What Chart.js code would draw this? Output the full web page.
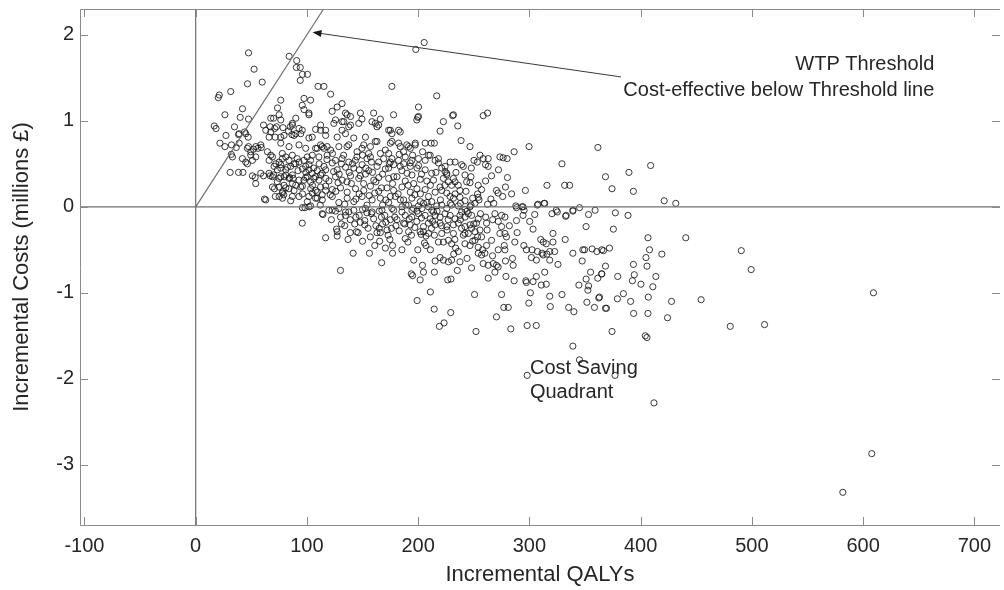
<!DOCTYPE html>
<html>
<head>
<meta charset="utf-8">
<script src="https://cdn.jsdelivr.net/npm/chart.js@4.4.1/dist/chart.umd.min.js"></script>
<style>
html, body { margin: 0; padding: 0; background: #fff; }
#wrap { width: 1004px; height: 590px; }
</style>
</head>
<body>
<div id="wrap"><canvas id="chart" width="1004" height="590"></canvas></div>
<script>
// axis settings
const xTickValues = [-100, 0, 100, 200, 300, 400, 500, 600, 700];
const yTickValues = [-3, -2, -1, 0, 1, 2];
const xRange = [-104, 723];
const yRange = [-3.7, 2.3];
const wtpPerQaly = 20000; // £ per QALY

const wtpText = ['WTP Threshold', 'Cost-effective below Threshold line'];
const savingText = ['Cost Saving', 'Quadrant'];

// PSA samples: [incremental QALYs, incremental costs (millions £)]
const psaSamples = [
  // top left, x < 120
  [47.5,1.79],[52.5,1.6],[59.8,1.45],[46.6,1.43],[31.5,1.34],[21.2,1.3],[20.3,1.27],[26.3,1.07],[42.1,1.14],[40,1.04],
  [47.5,1.02],[16.7,0.94],[18.3,0.91],[27.2,0.83],[34.9,0.93],[38.5,0.84],[45,0.85],[44,0.87],[47.2,0.81],[32.2,0.72],
  [21.8,0.74],[26.3,0.7],[32,0.61],[36.5,0.69],[33,0.58],[42,0.56],[45,0.52],[46.5,0.5],[49.5,0.6],[31,0.4],
  [38.5,0.4],[42.5,0.4],[46.5,0.68],[49.5,0.64],[52,0.67],[56,0.68],[59,0.69],[54,0.27],[53.5,0.34],[61,0.36],
  [61.8,0.09],[63,0.08],[71.6,0.12],[70.8,0.21],[78.3,0.18],[79.2,0.14],[67,0.36],[70,0.37],[75,0.33],[84.6,0.34],
  [87.6,0.33],[61,0.95],[67,0.93],[70,1.03],[73.6,1.15],[76.5,1.24],[78.5,0.92],[85,0.93],[83.5,0.88],[86.5,0.84],
  [90,0.85],[84,1.75],[90.8,1.7],[90.5,1.62],[94,1.62],[96,1.54],[100.5,1.54],[94,1.47],
  [110,1.4],[115.3,1.4],[97.4,1.26],[103.3,1.24],[95.8,1.18],[97.4,1.13],[101.8,1.09],[90,1.03],[86.9,0.97],[67.5,1.03],
  [75,1.07],[76.5,1.01],[63,0.89],[67.5,0.87],[71,0.91],[72.6,0.93],[92.9,0.91],[95.8,0.89],[107.8,0.9],[112.3,0.89],
  [116.8,0.89],[39.1,0.85],[66,0.81],[71.5,0.81],[76.5,0.81],[39.1,0.74],[47.5,0.7],[54.1,0.7],[58.5,0.72],[51,0.54],
  [54,0.58],[51,0.36],[58.5,0.39],
  [64.5,0.64],[67.5,0.6],[66,0.54],[69,0.58],[72,0.5],[75,0.52],[77.9,0.56],[81,0.58],[83.9,0.54],[70.5,0.47],
  [73.4,0.43],[66,0.39],[69,0.35],[76.5,0.45],[81,0.43],[85.4,0.47],[89.9,0.5],[92.9,0.52],[97.3,0.54],[100.3,0.58],
  [104.8,0.6],[109.3,0.68],[112.3,0.72],[115.3,0.68],[118.2,0.7],[98.9,0.47],[101.8,0.43],[104.8,0.39],[100.3,0.35],[97.3,0.31],
  [103.3,0.29],[107.8,0.35],[110.8,0.31],[113.7,0.39],[116.8,0.43],[112.3,0.23],[107.8,0.19],[104.8,0.16],[101.8,0.12],[109.3,0.1],
  [113.7,0.14],[116.8,0.19],[81,0.37],[83.9,0.33],[76.5,0.35],[73.4,0.29],[79.4,0.25],[83.9,0.21],[89.9,0.25],[94.4,0.23],
  [69,0.23],[77.9,0.16],[75,0.12],[86.9,0.12],
  // upper band 0.5 - 1.1
  [101.8,1.07],[122.7,1.11],[136.1,1.07],[139.2,1.05],[148.1,1.09],[160,1.09],[177.9,1.07],[200.3,1.05],
  [86.9,0.95],[112.3,0.95],[124.2,0.97],[131.6,0.99],[139.2,0.95],[146.6,0.97],[158.5,0.99],[164.5,0.95],[173.5,0.89],[176.4,0.85],
  [198.8,1.01],[79.4,0.83],[88.4,0.83],[94.4,0.85],[101.8,0.8],[104.8,0.81],[116.8,0.83],[127.2,0.81],[134.7,0.85],[142.1,0.8],
  [152.6,0.81],[161.5,0.76],[176.4,0.76],[182.4,0.74],[189.8,0.72],[197.4,0.74],[206.3,0.74],
  [76.5,0.74],[83.9,0.7],[92.9,0.72],[98.9,0.68],[107.8,0.68],[113.7,0.7],[121.3,0.66],[128.7,0.7],[136.1,0.7],[149.5,0.68],
  [157.1,0.7],[170.5,0.66],[173.5,0.62],[186.9,0.64],
  [77.9,0.62],[86.9,0.6],[91.3,0.56],[103.3,0.54],[110.8,0.58],[118.2,0.6],[125.7,0.54],[131.6,0.56],[137.6,0.52],[143.6,0.54],
  [154,0.56],[157.1,0.58],[164.5,0.52],[176.4,0.56],[182.4,0.54],[194.3,0.54],[200.3,0.56],[206.3,0.54],
  [205.4,1.91],[197.9,1.83],[176.4,1.4],[216.7,1.29],[121.3,1.31],[200.3,1.16],[199.7,1.04],[231.7,1.07],[222.7,0.99],[235.6,0.94],
  [219.7,0.88],[238.6,0.77],[149.5,1.02],[166,1.02],[161.5,0.97],[163,0.93],[131.6,1.2],[127.2,1.16],[134.7,1.09],[133.2,0.99],
  [137.6,0.93],[125.7,1.01],[131.6,0.89],[175,0.89],[182.4,0.89],[183.9,0.87],[191.4,0.7],[192.9,0.68],[197.4,0.72],[183.9,0.7],
  [175,0.74],[209.3,0.6],[218.2,0.56],[228.7,0.52],[233.2,0.52],[239.1,0.49],[224.2,0.47],[225.7,0.39],[231.7,0.33],[163,0.76],
  [151.1,0.72],[155.5,0.62],[145.1,0.64],[137.6,0.72],[188.4,0.58],[192.9,0.51],[183.9,0.47],[175,0.52],[173.5,0.45],
  // x 200 - 340 above zero
  [231,1.06],[258.5,1.06],[262.4,1.09],[246.6,0.7],[211.7,0.74],[214.6,0.74],[299.7,0.7],[286.3,0.64],[329.3,0.5],[255.6,0.6],
  [258.5,0.56],[263,0.56],[250.2,0.54],[253.2,0.52],[240.6,0.47],[247.8,0.45],[260.6,0.49],[263,0.47],[273.5,0.58],[276.4,0.57],
  [280,0.56],[272.2,0.43],[266,0.36],[260.6,0.3],[254,0.25],[247.5,0.35],[242.1,0.37],[243.6,0.29],[246.6,0.28],[280.3,0.34],
  [278.5,0.23],[270.4,0.19],[271.9,0.16],[296.4,0.19],[315.8,0.25],[331.7,0.25],[336.2,0.25],[265.4,0.09],[262.4,0.03],[253.4,0.15],
  [254,0.11],[254.7,0.08],[247.5,0.02],[242.1,0.07],[237.6,0.11],[233.2,0.15],[288.4,-0.01],[294.3,0],[295.2,-0.04],[307.2,0.02],
  [313.2,0.04],[324.2,-0.04],[339.1,-0.04],[333.1,-0.1],
  [210.8,0.6],[215.3,0.54],[218.2,0.51],[212.2,0.39],[213.8,0.31],[221.2,0.45],[224.2,0.41],[225.7,0.37],[222.7,0.33],[227.2,0.29],
  [230.1,0.25],[233.2,0.29],[236.1,0.25],[237.6,0.19],[219.7,0.23],[221.2,0.19],[215.3,0.17],[225.7,0.16],[228.7,0.12],[231.7,0.1],
  [209.3,0.12],[212.2,0.06],[239.1,-0.06],[245.1,-0.08],[213.8,-0.06],
  // dense core rows, x 75 - 210
  [76.5,0.49],[82.5,0.46],[88.4,0.5],[95.9,0.44],[101.9,0.49],[109.3,0.42],[115.3,0.47],[122.8,0.51],[127.2,0.43],[134.7,0.46],
  [142.2,0.45],[149.6,0.49],[155.6,0.42],[163.1,0.47],[170.5,0.44],[178,0.49],[185.4,0.42],[192.9,0.47],[200.4,0.48],[206.3,0.43],
  [79.5,0.35],[86.9,0.37],[92.9,0.31],[98.9,0.34],[106.3,0.33],[112.3,0.37],[119.8,0.3],[125.7,0.35],[131.7,0.31],[139.2,0.36],
  [146.6,0.33],[152.6,0.38],[160.1,0.31],[164.6,0.34],[173.5,0.33],[181,0.35],[188.4,0.3],[194.4,0.37],[201.9,0.32],[207.8,0.3],
  [75,0.23],[81,0.22],[88.4,0.19],[95.9,0.24],[103.4,0.21],[109.3,0.17],[116.8,0.24],[122.8,0.2],[130.2,0.22],[136.2,0.17],
  [143.7,0.21],[151.1,0.19],[157.1,0.24],[164.6,0.18],[172,0.22],[178,0.19],[185.4,0.23],[192.9,0.17],[198.9,0.21],[206.3,0.2],
  [78,0.1],[85.4,0.07],[92.9,0.12],[100.4,0.06],[107.8,0.1],[113.8,0.08],[122.8,0.12],[128.7,0.05],[136.2,0.1],[142.2,0.06],
  [149.6,0.12],[158.6,0.08],[166,0.1],[173.5,0.05],[179.5,0.12],[186.9,0.08],[194.4,0.1],[201.9,0.06],
  [95.9,-0.01],[101.9,0],[113.8,-0.08],[119.8,-0.04],[128.7,-0.02],[134.7,-0.06],[142.2,-0.04],[152.6,-0.02],[158.6,-0.06],[167.5,-0.04],
  [176.5,-0.02],[185.4,-0.06],[194.4,-0.04],[203.4,-0.02],
  // extra points in the darkest part of the cloud
  [118,0.55],[124,0.41],[131,0.5],[138,0.4],[145,0.58],[151,0.27],[158,0.52],[162,0.29],[169,0.56],[177,0.27],
  [183,0.61],[190,0.39],[196,0.27],[204,0.64],[121,0.14],[128,0.28],[134,0.03],[140,0.27],[147,0.15],[154,0.02],
  [161,0.16],[168,0.02],[175,0.12],[182,0.15],[189,0.02],[197,0.14],[203,0.38],[168,0.38],[147,0.43],[112,0.02],
  [106,0.45],[92,0.42],[87,0.27],[96,0.15],[181,-0.15],[165,-0.25],[148,-0.18],[139,-0.3],[192,-0.14],[213,-0.17],
  [226,-0.27],[238,-0.15],[250,-0.2],[197,-0.24],[207,-0.34],
  [99,0.4],[105,0.25],[111,0.5],[117,0.33],[123,0.62],[126,0.18],[129,0.38],[133,0.6],[136,0.29],[141,0.5],
  [144,0.09],[148,0.36],[150,0.6],[153,0.45],[156,0.13],[159,0.4],[166,0.62],[167,0.22],[171,0.08],[174,0.5],
  [178,0.35],[184,0.08],[187,0.5],[191,0.25],[195,0.6],[199,0.45],[202,0.15],[208,0.05],[211,0.25],[216,0.4],
  [220,0.08],[224,0.25],[229,0.04],[234,0.4],[238,0.04],[243,0.18],[249,0.1],[257,0.2],[268,0.04],[276,0.12],
  [284,0.15],[122,-0.15],[131,-0.2],[137,-0.38],[144,-0.12],[150,-0.4],[154,-0.07],[161,-0.45],[166,-0.3],[171,-0.18],
  [177,-0.45],[183,-0.28],[188,-0.2],[194,-0.33],[199,-0.05],[203,-0.13],[207,-0.45],[212,-0.25],[217,-0.05],[221,-0.22],
  [227,-0.15],[233,-0.38],[239,-0.25],[244,-0.05],[249,-0.4],[256,-0.08],[262,-0.27],[267,-0.15],[282,-0.22],[289,-0.3],
  [295,-0.45],[258,-0.5],[244,-0.6],[232,-0.55],[211,-0.5],[196,-0.62],
  // below zero, x 95 - 180
  [95.8,-0.19],[114.4,-0.09],[116.8,-0.36],[126.6,-0.26],[127.2,-0.29],[127.2,-0.34],[130.2,-0.74],[141.5,-0.54],[144.5,-0.29],[152,-0.21],
  [156.2,-0.54],[165.4,-0.4],[167.2,-0.65],[170.5,-0.48],[174.6,-0.38],[177,-0.54],[98.2,-0.01],[103.3,0.01],[122.7,-0.04],[125.7,-0.05],
  [130.2,-0.12],[134.7,-0.1],[137.6,-0.06],[143,-0.2],[147,-0.1],[150,-0.03],[152,-0.16],[155,-0.25],[158,-0.08],[160,-0.14],
  [163,-0.3],[165,-0.05],[168,-0.2],[170,-0.1],[172,-0.27],[175,-0.15],[178,-0.04],[180,-0.22],[146,-0.3],[157,-0.35],
  [162,-0.22],[167,-0.12],[173,-0.33],[176,-0.25],[179,-0.12],[139,-0.15],[134,-0.22],
  // below zero, x 180 - 370
  [252,-1.45],[219.1,-1.39],[223.3,-1.35],[229.3,-1.23],[214.4,-1.19],[199.1,-1.09],[211,-0.99],[270.4,-1.28],[283.3,-1.42],[298,-1.38],
  [306.2,-1.38],[339.1,-1.62],[345,-1.78],[298,-1.96],[277,-1.17],[281,-1.17],[250.7,-1.02],[275,-1.02],[299.5,-1.12],[318.8,-1.16],
  [318.3,-1.04],[329.3,-1.02],[335.3,-1.17],[340,-1.22],[351.7,-1.11],[358.5,-1.17],[362.4,-1.06],[368.4,-1.18],[193.8,-0.78],[195,-0.8],
  [201.8,-0.85],[214.6,-0.76],[203.9,-0.68],[204.8,-0.76],[226.6,-0.85],[229.5,-0.84],[235.2,-0.74],[248,-0.71],[263,-0.83],[269,-0.76],
  [271.9,-0.7],[278.9,-0.81],[286.3,-0.86],[296.8,-0.86],[297.3,-0.88],[303.3,-0.87],[306.3,-0.81],[313.8,-0.76],[310.7,-0.91],[315.2,-0.9],
  [300.9,-1],[318.3,-0.62],[325.7,-0.67],[297.3,-0.5],[302.4,-0.5],[307.2,-0.52],[311.4,-0.54],[318.3,-0.52],[322.7,-0.52],[301.8,-0.59],
  [306.3,-0.62],[312.3,-0.56],[315.8,-0.55],[310.2,-0.38],[312.5,-0.41],[315.2,-0.43],[321.2,-0.31],[321.2,-0.41],[332.2,-0.38],[339.1,-0.54],
  [348.1,-0.5],[349.6,-0.5],[347.5,-0.63],[356.4,-0.49],[360.6,-0.52],[365.1,-0.5],[355,-0.76],[351,-0.84],[353.2,-0.92],[352.6,-0.97],
  [344.5,-0.91],[361.5,-0.83],[365.1,-0.78],[351,-0.23],[332.6,-0.11],[339.1,-0.05],[345.1,-0.01],[353.2,-0.09],[359.1,-0.04],[300.3,-0.17],
  [303.3,-0.26],[320.3,-0.08],[325.1,-0.06],[304.8,-0.09],[288.4,-0.16],[294.3,-0.1],[313.8,0.04],[307.8,0.03],[293.4,0],[287.8,0.01],
  [286.9,-0.41],[278,-0.5],[277.4,-0.45],[272,-0.5],[266.9,-0.57],[267.5,-0.66],[270.4,-0.68],[284.8,-0.6],[285.4,-0.68],[278.5,-0.63],
  [263,-0.68],[258.5,-0.66],[260,-0.54],[257,-0.56],[254,-0.54],[215.3,-0.63],[219.7,-0.59],[222.7,-0.62],[227.2,-0.64],[230.1,-0.62],
  [185.4,-0.5],[199.7,-0.5],[205.7,-0.42],[202.7,-0.32],[204.8,-0.29],[188.4,-0.37],[190.8,-0.41],[214.6,-0.33],[218.2,-0.41],[222.7,-0.41],
  [227.2,-0.39],[230.1,-0.43],[233.7,-0.48],[236.1,-0.52],[237.6,-0.64],[242.1,-0.43],[246.6,-0.45],[251.1,-0.39],[253.4,-0.35],[254,-0.47],
  [260.7,-0.12],[261.5,-0.19],[269,-0.08],[275,-0.1],[278,-0.12],[272,-0.17],[275,-0.23],[278,-0.31],[279.4,-0.35],[273.5,-0.31],
  [266,-0.39],[261.5,-0.45],[257,-0.35],[251.1,-0.29],[245.1,-0.31],[240.6,-0.33],[255.6,-0.27],[248,-0.25],
  [185.4,0],[191.4,0.02],[195.8,-0.02],[200.3,0.01],[204.8,0.04],[209.3,0],[212.2,-0.04],[216.7,0.01],[221.2,0.02],[225.7,-0.02],
  [230.1,0.02],[236.1,0.01],[242.1,-0.03],[246.6,0],[251.1,0.04],
  [188.4,-0.1],[194.3,-0.12],[200.3,-0.08],[206.3,-0.1],[210.8,-0.14],[215.3,-0.1],[219.7,-0.12],[224.2,-0.08],[228.7,-0.1],[233.2,-0.14],
  [237.6,-0.1],[242.1,-0.12],[248,-0.1],[254,-0.14],
  [186.9,-0.19],[192.9,-0.21],[198.8,-0.17],[204.8,-0.23],[209.3,-0.19],[215.3,-0.21],[219.7,-0.19],[225.7,-0.23],[231.7,-0.21],[236.1,-0.19],
  [242.1,-0.23],[246.6,-0.21],[252.5,-0.19],
  [191.4,-0.29],[201.8,-0.29],[209.3,-0.31],[221.2,-0.31],[231.7,-0.31],[242.1,-0.31],
  // right tail, x > 360
  [361.6,0.69],[368.4,0.35],[389.5,0.4],[409,0.48],[374.3,0.21],[393.5,0.18],[421.2,0.07],[431.6,0.04],[377.3,-0.07],[388.7,-0.1],
  [375.5,-0.26],[406.6,-0.36],[440.6,-0.36],
  [609.3,-1],[607.8,-2.87],[581.8,-3.32],[511.4,-1.37],[480.6,-1.39],[499.4,-0.73],[490.5,-0.51],[454.4,-1.08],[412,-2.28],[427.8,-1.1],
  [424.2,-1.29],[419.1,-0.55],[413.7,-0.81],[411,-0.93],[406.9,-1.05],[406.6,-1.24],[404.2,-1.5],[405.7,-1.52],[405.7,-0.69],[404.8,-0.59],
  [408,-0.5],[400.3,-0.9],[393.7,-1.24],[391,-1.1],[394.3,-0.79],[392.6,-0.86],[393.5,-0.67],[384.5,-1.01],[379.4,-0.81],[379.1,-1.07],
  [374.3,-1.45],[369.3,-1.18],[368.4,-0.69],[365,-0.78],[372,-0.48],[366.6,-0.51],[363,-1.05],[377,-1.96]
];

const fontFamily = '"Liberation Sans", Arial, Helvetica, sans-serif';
const textColor = '#262626';

function toXY(pairs) {
  return pairs.map(p => ({ x: p[0], y: p[1] }));
}

// threshold line y = x * WTP, drawn from the origin to the top of the axes
const wtpEnd = yRange[1] * 1e6 / wtpPerQaly;
const wtpLine = [[0, 0], [wtpEnd, yRange[1]]];
const yZeroLine = [[xRange[0], 0], [xRange[1], 0]];
const xZeroLine = [[0, yRange[0]], [0, yRange[1]]];

const framePlugin = {
  id: 'matlabFrame',
  afterDraw(chart) {
    const ctx = chart.ctx;
    const a = chart.chartArea;
    const xs = chart.scales.x;
    const ys = chart.scales.y;
    const tick = 8;
    ctx.save();
    ctx.strokeStyle = '#8a8a8a';
    ctx.lineWidth = 1;
    ctx.beginPath();
    ctx.moveTo(a.left + 0.5, a.top + 0.5);
    ctx.lineTo(a.left + 0.5, a.bottom + 0.5);
    ctx.lineTo(a.right, a.bottom + 0.5);
    ctx.moveTo(a.left + 0.5, a.top + 0.5);
    ctx.lineTo(a.right, a.top + 0.5);
    xTickValues.forEach(v => {
      const px = Math.round(xs.getPixelForValue(v)) + 0.5;
      ctx.moveTo(px, a.bottom);
      ctx.lineTo(px, a.bottom - tick);
      ctx.moveTo(px, a.top);
      ctx.lineTo(px, a.top + tick);
    });
    yTickValues.forEach(v => {
      const py = Math.round(ys.getPixelForValue(v)) + 0.5;
      ctx.moveTo(a.left, py);
      ctx.lineTo(a.left + tick, py);
      ctx.moveTo(a.right, py);
      ctx.lineTo(a.right - tick, py);
    });
    ctx.stroke();

    // arrow pointing at the threshold line
    const x0 = xs.getPixelForValue(382.4), y0 = ys.getPixelForValue(1.51);
    const x1 = xs.getPixelForValue(105), y1 = ys.getPixelForValue(2.03);
    const ang = Math.atan2(y1 - y0, x1 - x0);
    ctx.strokeStyle = '#3a3a3a';
    ctx.fillStyle = '#1a1a1a';
    ctx.beginPath();
    ctx.moveTo(x0, y0);
    ctx.lineTo(x1 - 6 * Math.cos(ang), y1 - 6 * Math.sin(ang));
    ctx.stroke();
    ctx.beginPath();
    ctx.moveTo(x1, y1);
    ctx.lineTo(x1 - 9 * Math.cos(ang) + 3.5 * Math.sin(ang), y1 - 9 * Math.sin(ang) - 3.5 * Math.cos(ang));
    ctx.lineTo(x1 - 9 * Math.cos(ang) - 3.5 * Math.sin(ang), y1 - 9 * Math.sin(ang) + 3.5 * Math.cos(ang));
    ctx.closePath();
    ctx.fill();

    // text labels
    ctx.fillStyle = textColor;
    ctx.font = '20px ' + fontFamily;
    ctx.textBaseline = 'middle';
    ctx.textAlign = 'right';
    ctx.fillText(wtpText[0], xs.getPixelForValue(664), ys.getPixelForValue(1.65));
    ctx.fillText(wtpText[1], xs.getPixelForValue(664), ys.getPixelForValue(1.35));
    ctx.textAlign = 'left';
    ctx.fillText(savingText[0], xs.getPixelForValue(300.5), ys.getPixelForValue(-1.88));
    ctx.fillText(savingText[1], xs.getPixelForValue(300.5), ys.getPixelForValue(-2.16));
    ctx.restore();
  }
};

const refLine = (pairs) => ({
  type: 'line',
  data: toXY(pairs),
  borderColor: '#707070',
  borderWidth: 1.2,
  pointRadius: 0,
  fill: false,
  tension: 0
});

new Chart(document.getElementById('chart').getContext('2d'), {
  type: 'scatter',
  data: {
    datasets: [
      refLine(xZeroLine),
      refLine(yZeroLine),
      refLine(wtpLine),
      {
        label: 'PSA samples',
        data: toXY(psaSamples),
        pointRadius: 3.1,
        pointBorderWidth: 1,
        borderColor: 'rgba(25,25,25,0.85)',
        backgroundColor: 'rgba(0,0,0,0)',
        pointHoverRadius: 3.1
      }
    ]
  },
  options: {
    responsive: false,
    animation: false,
    devicePixelRatio: 1,
    layout: { padding: { top: 9, right: 0, left: 0, bottom: 0 } },
    plugins: { legend: { display: false }, tooltip: { enabled: false } },
    events: [],
    scales: {
      x: {
        type: 'linear',
        min: xRange[0],
        max: xRange[1],
        grid: { display: false, drawTicks: false },
        border: { display: false },
        afterBuildTicks: s => { s.ticks = xTickValues.map(v => ({ value: v })); },
        afterFit: s => { s.height = 65; s.paddingLeft = 0; s.paddingRight = 0; },
        ticks: {
          color: textColor,
          padding: 9,
          maxRotation: 0,
          font: { family: fontFamily, size: 20 }
        },
        title: {
          display: true,
          text: 'Incremental QALYs',
          color: textColor,
          font: { family: fontFamily, size: 22 },
          padding: { top: 0, bottom: 2 }
        }
      },
      y: {
        type: 'linear',
        min: yRange[0],
        max: yRange[1],
        grid: { display: false, drawTicks: false },
        border: { display: false },
        afterBuildTicks: s => { s.ticks = yTickValues.map(v => ({ value: v })); },
        afterFit: s => { s.width = 80; s.paddingTop = 0; s.paddingBottom = 0; },
        ticks: {
          color: textColor,
          padding: 6,
          font: { family: fontFamily, size: 20 }
        },
        title: {
          display: true,
          text: 'Incremental Costs (millions £)',
          color: textColor,
          font: { family: fontFamily, size: 22 },
          padding: { top: 9, bottom: 0 }
        }
      }
    }
  },
  plugins: [framePlugin]
});
</script>
</body>
</html>
